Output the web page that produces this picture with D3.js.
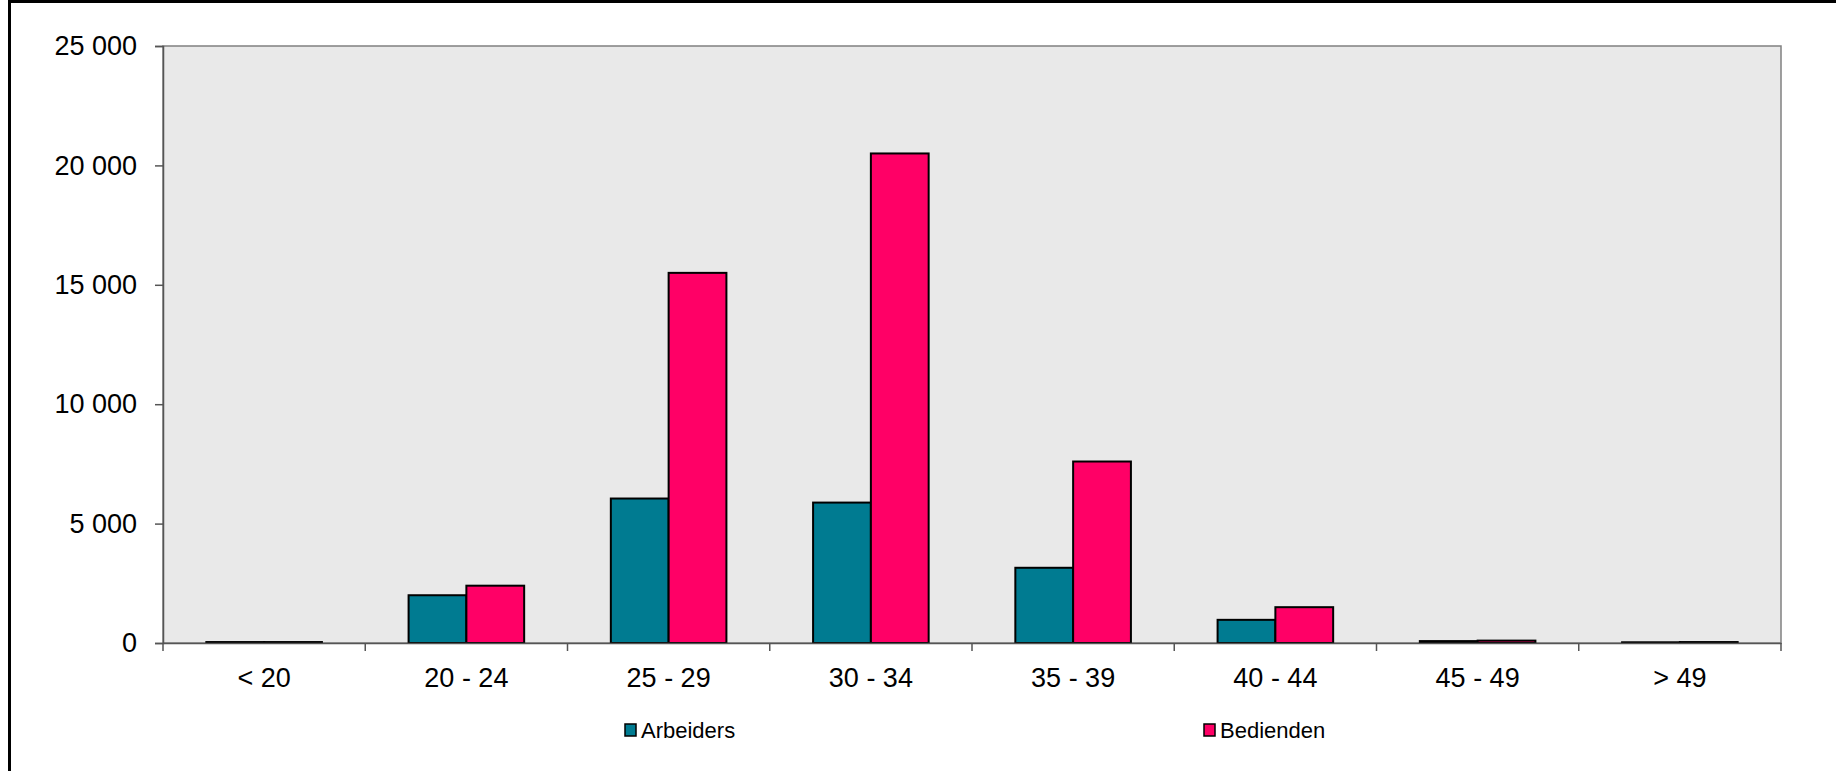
<!DOCTYPE html>
<html>
<head>
<meta charset="utf-8">
<script src="https://cdn.jsdelivr.net/npm/d3@7"></script>
<style>
  body { margin: 0; background: #fff; }
  text { font-family: "Liberation Sans", Arial, sans-serif; fill: #000; }
</style>
</head>
<body>
<script>
var categories = ["< 20", "20 - 24", "25 - 29", "30 - 34", "35 - 39", "40 - 44", "45 - 49", "> 49"];
var seriesNames = ["Arbeiders", "Bedienden"];
var arbeiders = [40, 2000, 6050, 5880, 3150, 970, 80, 30];
var bedienden = [40, 2400, 15500, 20500, 7600, 1500, 100, 40];
var yTicks = [0, 5000, 10000, 15000, 20000, 25000];
var colors = ["#007B91", "#FF0066"];

var width = 1836, height = 771;
var margin = {left: 163, right: 55, top: 46, bottom: 128};

var svg = d3.select("body").append("svg")
    .attr("width", width).attr("height", height);

// outer frame (only top and left edges fall inside the picture)
svg.append("rect")
    .attr("x", 9.5).attr("y", 1.5)
    .attr("width", 2000).attr("height", 1000)
    .style("fill", "none").style("stroke", "#000").style("stroke-width", 3);

var plotW = width - margin.left - margin.right;
var plotH = height - margin.top - margin.bottom;

var x = d3.scaleBand().domain(categories).range([0, plotW]).paddingInner(0).paddingOuter(0);
var inner = d3.scaleBand().domain(seriesNames)
    .range([x.bandwidth() * 0.75 / 3.5, x.bandwidth() * (1 - 0.75 / 3.5)]);
var y = d3.scaleLinear().domain([0, 25000]).range([plotH, 0]);

var fmt = d3.formatLocale({decimal: ",", thousands: " ", grouping: [3], currency: ["", ""]}).format(",d");

var chartGroup = svg.append("g").attr("transform", "translate(" + margin.left + "," + margin.top + ")");

chartGroup.append("rect")
    .attr("width", plotW).attr("height", plotH)
    .style("fill", "#E9E9E9").style("stroke", "#808080").style("stroke-width", 1.5);

var table = categories.map(function(c, i) {
  return {cat: c, values: [arbeiders[i], bedienden[i]]};
});

var groups = chartGroup.selectAll(".grp").data(table).enter().append("g")
    .attr("class", "grp")
    .attr("transform", function(d) { return "translate(" + x(d.cat) + ",0)"; });

groups.selectAll("rect").data(function(d) {
  return d.values.map(function(v, j) { return {name: seriesNames[j], value: v, j: j}; });
}).enter().append("rect")
    .attr("x", function(d) { return inner(d.name); })
    .attr("width", inner.bandwidth())
    .attr("y", function(d) { return y(d.value); })
    .attr("height", function(d) { return plotH - y(d.value); })
    .style("fill", function(d) { return colors[d.j]; })
    .style("stroke", "#000").style("stroke-width", 2);

// y axis
var yAxis = d3.axisLeft(y).tickValues(yTicks).tickSize(8).tickPadding(18).tickFormat(fmt);
var yg = chartGroup.append("g").call(yAxis);
yg.select(".domain").style("stroke", "#555").style("stroke-width", 1.5);
yg.selectAll(".tick line").style("stroke", "#555").style("stroke-width", 1.5);
yg.selectAll("text").style("font-size", "27px").style("fill", "#000");

// x axis
var xAxis = d3.axisBottom(x).tickSize(0).tickPadding(25);
var xg = chartGroup.append("g").attr("transform", "translate(0," + plotH + ")").call(xAxis);
xg.select(".domain").style("stroke", "#555").style("stroke-width", 1.5);
xg.selectAll("text").style("font-size", "27px").style("fill", "#000");
xg.selectAll(".cattick").data(d3.range(categories.length + 1)).enter().append("line")
    .attr("x1", function(i) { return i * x.step(); })
    .attr("x2", function(i) { return i * x.step(); })
    .attr("y1", 0).attr("y2", 8)
    .style("stroke", "#555").style("stroke-width", 1.5);

// legend
var legendX = [625, 1204];
var legend = svg.selectAll(".leg").data(seriesNames).enter().append("g")
    .attr("class", "leg")
    .attr("transform", function(d, i) { return "translate(" + legendX[i] + ",730)"; });
legend.append("rect")
    .attr("x", 0).attr("y", -6).attr("width", 11).attr("height", 12)
    .style("fill", function(d, i) { return colors[i]; })
    .style("stroke", "#000").style("stroke-width", 1.5);
legend.append("text")
    .attr("x", 16).attr("y", 8)
    .style("font-size", "22px")
    .text(function(d) { return d; });
</script>
</body>
</html>
